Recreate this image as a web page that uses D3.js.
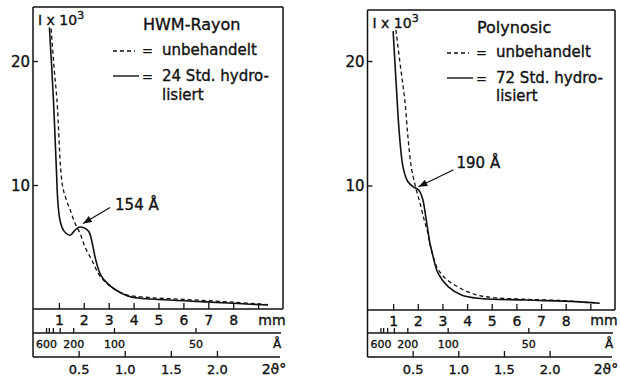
<!DOCTYPE html>
<html lang="de">
<head>
  <meta charset="UTF-8">
  <title>Kleinwinkelstreuung HWM-Rayon / Polynosic</title>
  <script src="https://d3js.org/d3.v7.min.js"></script>
  <style>
    body { margin: 0; background: #fff; }
    svg { display: block; font-family: "DejaVu Sans", sans-serif; }
    svg text { fill: #111; stroke: #111; stroke-width: 0.35px; }
    .frame { stroke: #111; stroke-width: 1.5; fill: none; }
    .tick line { stroke: #111; stroke-width: 1.3; }
  </style>
</head>
<body>
  <script>
    // Achsen
    const lambda = 1.5418; // Cu K-alpha
    const mmTicks = [1, 2, 3, 4, 5, 6, 7, 8, 9];
    const mmLabels = [1, 2, 3, 4, 5, 6, 7, 8];
    const dTicks = [600, 500, 400, 300, 200, 100, 50];
    const dLabels = [600, 200, 100, 50];
    const thetaTicks = [0.5, 1.0, 1.5, 2.0];
    const yTicks = [10, 20];

    // Kurven: [mm, I x 10^3]
    const hwmUntreated = [[0.69, 22.6], [0.8, 19.6], [0.92, 16.9], [1.14, 10.0], [1.3, 8.8],
      [1.45, 8.0], [1.65, 6.9], [1.85, 6.1], [2.05, 5.0], [2.32, 3.95], [2.58, 2.88],
      [2.85, 2.2], [3.12, 1.75], [3.5, 1.3], [3.8, 1.1], [4.66, 0.92], [6.0, 0.78],
      [8.0, 0.55], [9.4, 0.35]];
    const hwmHydrolysed = [[0.62, 22.7], [0.78, 16.9], [0.9, 11.2], [0.96, 8.6], [1.05, 7.1],
      [1.2, 6.3], [1.45, 5.95], [1.62, 6.3], [1.8, 6.6], [2.0, 6.55], [2.2, 6.25],
      [2.34, 5.3], [2.48, 3.95], [2.68, 2.74], [2.95, 2.07], [3.29, 1.53], [3.76, 1.05],
      [4.26, 0.87], [6.0, 0.67], [8.0, 0.46], [9.4, 0.32]];
    const polyUntreated = [[1.11, 22.5], [1.3, 19.5], [1.47, 16.9], [1.61, 13.7], [1.75, 11.3],
      [1.92, 9.8], [2.1, 8.5], [2.25, 7.3], [2.38, 6.4], [2.55, 4.84], [2.76, 3.5],
      [3.09, 2.6], [3.63, 1.85], [4.31, 1.25], [5.05, 1.0], [6.4, 0.86], [7.9, 0.75],
      [9.37, 0.54]];
    const polyHydrolysed = [[1.0, 22.4], [1.16, 16.9], [1.27, 13.7], [1.41, 11.4], [1.6, 10.3],
      [1.85, 9.85], [2.05, 9.6], [2.2, 8.9], [2.33, 7.4], [2.49, 5.38], [2.62, 4.3],
      [2.82, 2.96], [3.23, 1.88], [3.77, 1.21], [4.44, 0.94], [6.4, 0.8], [8.4, 0.67],
      [9.37, 0.54]];

    const titles = ['HWM-Rayon', 'Polynosic'];
    const hours = ['24', '72'];
    const peakLabels = ['154 Å', '190 Å'];
    const peakTips = [[1.97, 6.9], [2.03, 9.9]];

    // Layout je Teilbild
    const panels = [
      { x0: 34, x1: 283, yBase: 309, y20: 61, top: 7, untreated: hwmUntreated, hydrolysed: hwmHydrolysed,
        lab: [27, -16], txt: [32, -13], legX: 113, titleY: 30, legY: [55, 81, 100] },
      { x0: 368.5, x1: 615, yBase: 310, y20: 61, top: 10, untreated: polyUntreated, hydrolysed: polyHydrolysed,
        lab: [35, -17], txt: [38, -19], legX: 447, titleY: 33, legY: [57, 83, 101] }
    ];
    const yMid = 333, yBot = 357;
    const degPerMm = 0.27;
    const dToDeg = d => 2 * Math.asin(lambda / (2 * d)) * 180 / Math.PI;

    const svg = d3.select('body').append('svg')
      .attr('width', 620).attr('height', 381);

    svg.append('defs').append('marker')
      .attr('id', 'head')
      .attr('viewBox', '0 0 10 8')
      .attr('refX', 10).attr('refY', 4)
      .attr('markerWidth', 10).attr('markerHeight', 7)
      .attr('markerUnits', 'userSpaceOnUse')
      .attr('orient', 'auto')
      .append('path').attr('d', 'M0,0L10,4L0,8Z').attr('fill', '#111');

    panels.forEach((p, i) => {
      const g = svg.append('g');
      const x = d3.scaleLinear().domain([0, 10]).range([p.x0, p.x1]);
      const y = d3.scaleLinear().domain([0, 20]).range([p.yBase, p.y20]);
      const tth = d3.scaleLinear().domain([0, 10 * degPerMm]).range([p.x0 - 1.5, p.x1 - 1.5]);
      const L = p.x0 - 1;

      // Rahmen
      const frame = [
        [[L, p.top], [L, yBot]], [[L, p.top], [p.x1, p.top]], [[p.x1, p.top], [p.x1, p.yBase]],
        [[L, p.yBase], [p.x1, p.yBase]], [[L, yMid], [p.x1 - 2, yMid]], [[L, yBot], [p.x1 - 3, yBot]]
      ];
      g.selectAll('.frame').data(frame).join('path')
        .attr('class', 'frame')
        .attr('d', d => d3.line()(d));

      // y-Achse
      g.append('g')
        .attr('transform', `translate(${L},0)`)
        .call(d3.axisLeft(y).tickValues(yTicks).tickSizeInner(-5).tickSizeOuter(0).tickPadding(3))
        .call(a => a.select('.domain').remove())
        .call(a => a.selectAll('text').style('font-size', '15px').attr('dy', '0.36em'))
        .call(a => a.attr('font-family', null));

      // mm-Achse
      g.append('g')
        .attr('transform', `translate(0,${p.yBase})`)
        .call(d3.axisTop(x).tickValues(mmTicks).tickSize(6).tickFormat(''))
        .call(a => a.select('.domain').remove());
      g.append('g')
        .attr('transform', `translate(0,${p.yBase})`)
        .call(d3.axisBottom(x).tickValues(mmLabels).tickSize(0).tickPadding(0).tickFormat(d3.format('d')))
        .call(a => a.select('.domain').remove())
        .call(a => a.selectAll('text').style('font-size', '14px').attr('y', 16).attr('dy', null))
        .call(a => a.attr('font-family', null));

      // Å-Achse
      g.append('g')
        .attr('transform', `translate(0,${yMid})`)
        .call(d3.axisTop(tth).tickValues(dTicks.map(dToDeg)).tickSize(5).tickFormat(''))
        .call(a => a.select('.domain').remove());
      g.append('g')
        .attr('transform', `translate(0,${yMid})`)
        .call(d3.axisBottom(tth).tickValues(dLabels.map(dToDeg)).tickSize(0)
          .tickFormat((v, k) => dLabels[k]))
        .call(a => a.select('.domain').remove())
        .call(a => a.selectAll('text').style('font-size', '11px').attr('y', 15).attr('dy', null))
        .call(a => a.attr('font-family', null));

      // 2-theta-Achse
      g.append('g')
        .attr('transform', `translate(0,${yBot})`)
        .call(d3.axisTop(tth).tickValues(thetaTicks).tickSize(6).tickFormat(''))
        .call(a => a.select('.domain').remove());
      g.append('g')
        .attr('transform', `translate(0,${yBot})`)
        .call(d3.axisBottom(tth).tickValues(thetaTicks).tickSize(0).tickFormat(d3.format('.1f')))
        .call(a => a.select('.domain').remove())
        .call(a => a.selectAll('text').style('font-size', '13px').attr('y', 17).attr('dy', null))
        .call(a => a.attr('font-family', null));

      // Einheiten
      const units = [['mm', 325, 14], ['Å', 348, 12], ['2ϑ°', 374, 14]];
      g.selectAll('.unit').data(units).join('text')
        .attr('class', 'unit')
        .attr('x', (d, k) => p.x1 - (k === 0 ? 11 : k === 1 ? 6 : 9))
        .attr('y', d => d[1])
        .attr('text-anchor', 'middle')
        .style('font-size', d => d[2] + 'px')
        .text(d => d[0]);

      // I x 10^3
      const it = g.append('text')
        .attr('x', L + 5).attr('y', p.top + 18)
        .style('font-size', '14px');
      it.append('tspan').text('I x 10');
      it.append('tspan').attr('dy', -6).style('font-size', '11px').text('3');

      // Kurven
      const line = d3.line().x(d => x(d[0])).y(d => y(d[1])).curve(d3.curveCatmullRom.alpha(0.5));
      g.append('path').datum(p.untreated)
        .attr('d', line).attr('fill', 'none')
        .attr('stroke', '#111').attr('stroke-width', 1.3).attr('stroke-dasharray', '4,3');
      g.append('path').datum(p.hydrolysed)
        .attr('d', line).attr('fill', 'none')
        .attr('stroke', '#111').attr('stroke-width', 1.6);

      // Pfeil + Beschriftung
      const tip = [x(peakTips[i][0]), y(peakTips[i][1])];
      g.append('line')
        .attr('x1', tip[0] + p.lab[0]).attr('y1', tip[1] + p.lab[1])
        .attr('x2', tip[0]).attr('y2', tip[1])
        .attr('stroke', '#111').attr('stroke-width', 1.3)
        .attr('marker-end', 'url(#head)');
      g.append('text')
        .attr('x', tip[0] + p.txt[0]).attr('y', tip[1] + p.txt[1])
        .style('font-size', '15px')
        .text(peakLabels[i]);

      // Legende
      const lx = p.legX, tx = lx + 49;
      g.append('text').attr('x', lx + 30).attr('y', p.titleY)
        .style('font-size', '16px').text(titles[i]);
      g.append('line')
        .attr('x1', lx).attr('x2', lx + 22).attr('y1', p.legY[0] - 4).attr('y2', p.legY[0] - 4)
        .attr('stroke', '#111').attr('stroke-width', 1.3).attr('stroke-dasharray', '4,3');
      g.append('line')
        .attr('x1', lx).attr('x2', lx + 26).attr('y1', p.legY[1] - 5).attr('y2', p.legY[1] - 5)
        .attr('stroke', '#111').attr('stroke-width', 1.4);
      [0, 1].forEach(k => g.append('text')
        .attr('x', lx + 29).attr('y', p.legY[k]).style('font-size', '13px').text('='));
      g.append('text').attr('x', tx).attr('y', p.legY[0])
        .style('font-size', '15px').text('unbehandelt');
      g.append('text').attr('x', tx).attr('y', p.legY[1])
        .style('font-size', '15px').text(`${hours[i]} Std. hydro-`);
      g.append('text').attr('x', tx).attr('y', p.legY[2])
        .style('font-size', '15px').text('lisiert');
    });
  </script>
</body>
</html>
